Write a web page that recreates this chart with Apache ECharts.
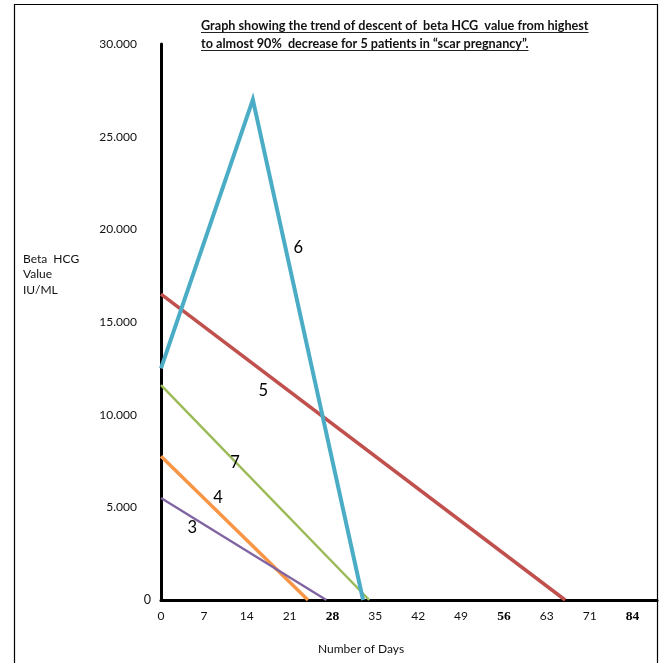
<!DOCTYPE html>
<html><head><meta charset="utf-8">
<script src="https://cdn.jsdelivr.net/npm/echarts@6/dist/echarts.min.js"></script>
<style>html,body{margin:0;padding:0;background:#fff}#c{width:662px;height:663px}</style>
</head><body><div id="c"></div>
<script>
// ---- data (day, beta HCG IU/ML) ----
const xTickLabels = ['0','7','14','21','28','35','42','49','56','63','71','84'];
const boldTickLabels = ['28','56','84'];
const patient3 = [[0, 5500], [27, 0]];
const patient4 = [[0, 7750], [24, 0]];
const patient5 = [[0, 16500], [66, 0]];
const patient6 = [[0, 12500], [15, 27000], [33, 0]];
const patient7 = [[0, 11600], [34, 0]];
const seriesNames = ['3', '4', '5', '6', '7'];
const titleLines = ['Graph showing the trend of descent of  beta HCG  value from highest',
                    'to almost 90%  decrease for 5 patients in \u201cscar pregnancy\u201d.'];
const yName = 'Beta  HCG\nValue\nIU/ML';
const xName = 'Number of Days';

const FONT = 'Lato, "Open Sans", sans-serif';
const TXT = '#111';
const cnv = document.createElement('canvas').getContext('2d');
function fitSize(text, weight, target){
  cnv.font = weight + ' 12px Lato';
  const w = cnv.measureText(text).width;
  return 12 * target / w;
}
const tSize = fitSize(titleLines[0], 'bold', 388);
cnv.font = 'bold ' + tSize + 'px Lato';
const tW1 = cnv.measureText(titleLines[0]).width;
const tW2 = cnv.measureText(titleLines[1]).width;

function lineSeries(name, data, color, width, labelCoord){
  return {
    type: 'line', name: name, data: data, symbol: 'none',
    lineStyle: {color: color, width: width, join: 'miter', cap: 'butt'},
    silent: true, z: 3,
    markPoint: {
      silent: true, symbol: 'circle', symbolSize: 0,
      label: {show: true, position: 'inside', formatter: name, color: '#000', fontSize: 16.5, fontFamily: FONT},
      data: [{coord: labelCoord}]
    }
  };
}

const chart = echarts.init(document.getElementById('c'), null, {renderer: 'canvas'});
chart.setOption({
  animation: false,
  backgroundColor: '#fff',
  grid: {left: 161, right: 5, top: 44, bottom: 63, containLabel: false},
  xAxis: {
    type: 'value', min: 0, max: 81, interval: 7,
    axisLine: {show: true, onZero: false, lineStyle: {color: '#000', width: 3}},
    axisTick: {show: false}, splitLine: {show: false},
    axisLabel: {
      margin: 10, color: TXT, fontSize: 12, fontFamily: FONT,
      showMaxLabel: false,
      formatter: function(v){
        const i = Math.round(v / 7);
        if (Math.abs(v - i * 7) > 1e-6 || i >= xTickLabels.length) return '';
        const lab = xTickLabels[i];
        return boldTickLabels.indexOf(lab) >= 0 ? '{b|' + lab + '}' : lab;
      },
      rich: {b: {fontFamily: '"Liberation Serif", serif', fontWeight: 'bold', fontSize: 13.5, color: '#000'}}
    }
  },
  yAxis: {
    type: 'value', min: 0, max: 30000, interval: 5000,
    axisLine: {show: true, lineStyle: {color: '#000', width: 3}},
    axisTick: {show: false}, splitLine: {show: false},
    axisLabel: {
      margin: 10, color: TXT, fontSize: 12, fontFamily: FONT,
      formatter: function(v){
        if (v === 0) return '{z|0}';
        return '{n|' + (v / 1000).toFixed(3) + '}';
      },
      rich: {
        z: {fontSize: 12.5, fontFamily: FONT, color: TXT, padding: [0, 0, 0, 0]},
        n: {fontSize: 12, fontFamily: FONT, color: TXT, padding: [0, 14, 0, 0]}
      }
    }
  },
  series: [
    lineSeries(seriesNames[4], patient7, '#9bbb59', 2.5, [12.1, 7400]),
    lineSeries(seriesNames[2], patient5, '#c0504d', 3.5, [16.7, 11300]),
    lineSeries(seriesNames[1], patient4, '#f79646', 3.5, [9.3, 5500]),
    lineSeries(seriesNames[0], patient3, '#8064a2', 2.3, [5.1, 3900]),
    lineSeries(seriesNames[3], patient6, '#4bacc6', 4, [22.4, 19000])
  ],
  graphic: [
    {type: 'rect', silent: true, z: 0, shape: {x: 14.5, y: 4.5, width: 643, height: 720},
     style: {fill: 'none', stroke: '#000', lineWidth: 1.2}},
    {type: 'text', silent: true, left: 201, top: 19,
     style: {text: titleLines[0], font: 'bold ' + tSize + 'px Lato', fill: TXT}},
    {type: 'text', silent: true, left: 201, top: 37,
     style: {text: titleLines[1], font: 'bold ' + tSize + 'px Lato', fill: TXT}},
    {type: 'line', silent: true, shape: {x1: 201, y1: 32.5, x2: 201 + tW1, y2: 32.5}, style: {stroke: '#222', lineWidth: 1}},
    {type: 'line', silent: true, shape: {x1: 201, y1: 50.5, x2: 201 + tW2, y2: 50.5}, style: {stroke: '#222', lineWidth: 1}},
    {type: 'text', silent: true, left: 23, top: 251,
     style: {text: yName, font: '12px Lato', fill: TXT, lineHeight: 15.5}},
    {type: 'text', silent: true, left: 318, top: 643,
     style: {text: xName, font: '12px Lato', fill: TXT}}
  ]
});
</script>
</body></html>
